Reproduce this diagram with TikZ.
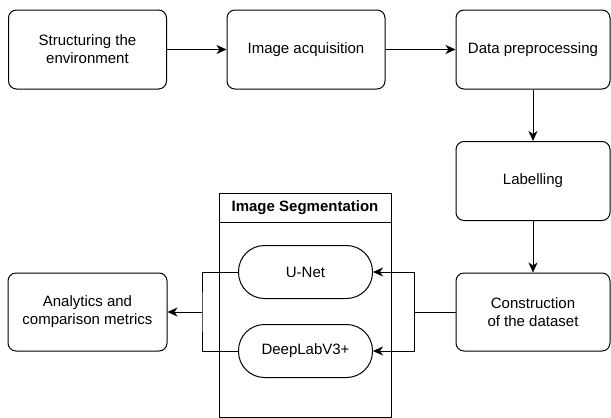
\documentclass[tikz,border=0pt]{standalone}
\usepackage{fontspec}
\setmainfont{Liberation Sans}
\usetikzlibrary{arrows.meta}

\tikzset{
  stage/.style={draw, rounded corners=8pt, line width=1pt, align=center,
    minimum width=158pt, minimum height=79pt},
  model/.style={draw, rounded corners=26pt, line width=1pt, align=center,
    minimum width=134pt, minimum height=53pt},
  flow/.style={-{Stealth[length=10pt,width=9pt,inset=3pt]}, line width=1pt},
  link/.style={line width=1pt}
}

\begin{document}
\begin{tikzpicture}[x=1pt,y=-1pt]
    \fontsize{15}{18}\selectfont
    \useasboundingbox (0,0) rectangle (611,418);

    % top row
    \node[stage] (env) at (87.5,49.5) {Structuring the\\environment};
    \node[stage] (acq) at (306,49.5) {Image acquisition};
    \node[stage, minimum width=154pt] (prep) at (533,49.5) {Data preprocessing};

    % right column
    \node[stage, minimum width=154pt] (lab) at (533,181) {Labelling};
    \node[stage, minimum width=154pt, minimum height=78pt] (data) at (533,312) {Construction\\of the dataset};

    % result
    \node[stage, minimum width=159pt, minimum height=78pt] (ana) at (87.5,312) {Analytics and\\comparison metrics};

    % segmentation container
    \node[draw, line width=1pt, minimum width=172pt, minimum height=224pt] (seg) at (305,305) {};
    \draw[line width=1pt] ([yshift=-30pt]seg.north west) -- ([yshift=-30pt]seg.north east);
    \node[font=\bfseries] (segtitle) at (305,208) {Image Segmentation};
    \node[model] (unet) at (305.5,272) {U-Net};
    \node[model] (deep) at (305.5,351) {DeepLabV3+};

    \coordinate (rj) at (414,312);
    \coordinate (lj) at (202,312);

    \draw[flow] (env) -- (acq);
    \draw[flow] (acq) -- (prep);
    \draw[flow] (prep) -- (lab);
    \draw[flow] (lab) -- (data);
    \draw[link] (data.west) -- (rj);
    \draw[flow] (rj) |- (unet.east);
    \draw[flow] (rj) |- (deep.east);
    \draw[link] (unet.west) -| (lj) |- (deep.west);
    \draw[flow] (lj) -- (ana.east);
\end{tikzpicture}
\end{document}
